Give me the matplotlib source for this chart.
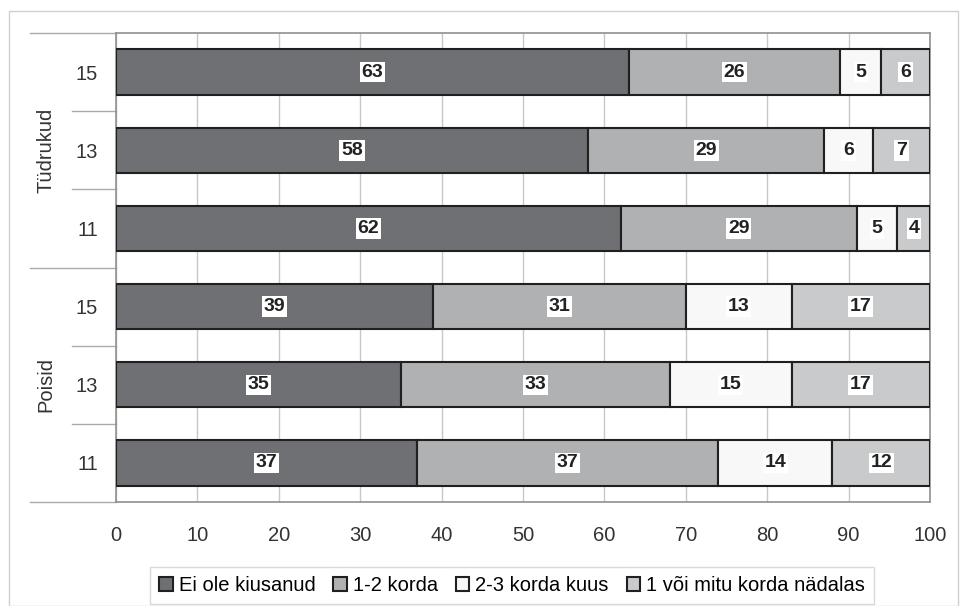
import matplotlib.pyplot as plt
from matplotlib.patches import Rectangle
import numpy as np

plt.rcParams['font.family'] = ['Liberation Sans', 'DejaVu Sans']

# === Data (bottom to top) ===
groups = ["Poisid", "Tüdrukud"]
ages = ["11", "13", "15", "11", "13", "15"]
series = ["Ei ole kiusanud", "1-2 korda", "2-3 korda kuus", "1 või mitu korda nädalas"]
ei_ole = [37, 35, 39, 62, 58, 63]
korda_12 = [37, 33, 31, 29, 29, 26]
korda_23 = [14, 15, 13, 5, 6, 5]
nadalas = [12, 17, 17, 4, 7, 6]
colors = ["#6f7073", "#b0b1b3", "#f8f8f8", "#c9cacc"]

# === Plot ===
fig = plt.figure(figsize=(9.6, 6.06), dpi=100)
fig.patches.append(Rectangle((9 / 960, 0), 949 / 960, 1 - 11 / 606, transform=fig.transFigure,
                             fill=False, edgecolor="#d0d0d0", linewidth=1))
ax = fig.add_axes([116 / 960, 1 - 502 / 606, 814 / 960, 469 / 606])

y = np.arange(len(ages))
left = np.zeros(len(ages))
for vals, col, name in zip([ei_ole, korda_12, korda_23, nadalas], colors, series):
    bars = ax.barh(y, vals, left=left, height=0.58, color=col, edgecolor="#202020",
                   linewidth=1.5, label=name, zorder=3)
    for b, v, l in zip(bars, vals, left):
        ax.text(l + v / 2, b.get_y() + b.get_height() / 2, str(v), ha="center", va="center",
                fontsize=14, fontweight="bold", color="#222222", zorder=4,
                bbox=dict(facecolor="white", edgecolor="none", pad=1.3))
    left += np.array(vals)

ax.set_xlim(0, 100)
ax.set_ylim(-0.5, len(ages) - 0.5)
ax.set_xticks(range(0, 101, 10))
ax.set_yticks(y)
ax.set_yticklabels(ages)
ax.tick_params(axis="both", length=0, labelsize=14.5, colors="#333333")
ax.tick_params(axis="y", pad=13)
ax.tick_params(axis="x", pad=17)
ax.grid(axis="x", color="#c8c8c8", linewidth=1, zorder=0)
for s in ax.spines.values():
    s.set_color("#909090")
    s.set_linewidth(1.2)

# category separators
small = -44 / 814 * 100
big = -86 / 814 * 100
for yy in [0.5, 1.5, 3.5, 4.5]:
    ax.plot([small, 0], [yy, yy], color="#aaaaaa", linewidth=1, clip_on=False)
for yy in [-0.5, 2.5, 5.5]:
    ax.plot([big, 0], [yy, yy], color="#aaaaaa", linewidth=1, clip_on=False)

for name, yc in zip(groups, [1, 4]):
    ax.text(-70 / 814 * 100, yc, name, rotation=90, ha="center", va="center",
            fontsize=14.5, color="#333333")

ax.legend(loc="lower center", bbox_to_anchor=(512 / 960, -8 / 606), bbox_transform=fig.transFigure,
          ncol=4, frameon=True, fancybox=False, edgecolor="#d0d0d0", fontsize=14.5,
          handlelength=0.65, handleheight=0.65, handletextpad=0.3, columnspacing=0.9,
          borderpad=0.45)

plt.savefig("out.png", dpi=100)
